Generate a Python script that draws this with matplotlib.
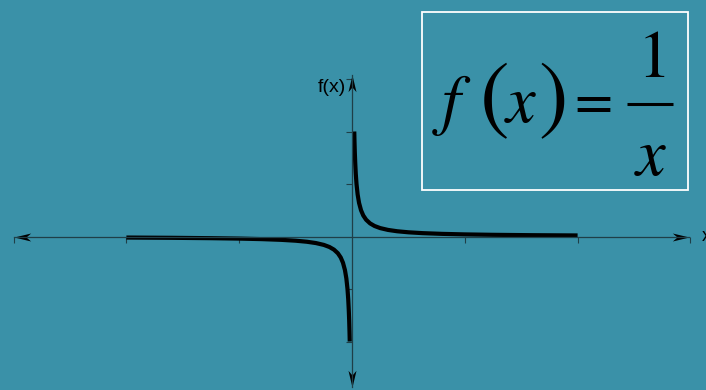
import matplotlib
matplotlib.use("Agg")
import matplotlib.pyplot as plt
from matplotlib.patches import Rectangle
from matplotlib.lines import Line2D
from matplotlib.path import Path

plt.rcParams["mathtext.fontset"] = "stix"

# ---- data ----
x_ticks = [-3, -2, -1, 1, 2, 3]
y_ticks = [-50, -25, 25, 50, 75]
x_pos = [0.02, 0.022, 0.025, 0.0286, 0.0333, 0.04, 0.05, 0.0625, 0.08, 0.1, 0.125,
         0.16, 0.2, 0.25, 0.32, 0.4, 0.5, 0.625, 0.8, 1.0, 1.25, 1.6, 2.0]
y_pos = [50, 45.5, 40, 35, 30, 25, 20, 16, 12.5, 10, 8,
         6.25, 5, 4, 3.125, 2.5, 2, 1.6, 1.25, 1.0, 0.8, 0.625, 0.5]
x_neg = [-2.0, -1.6, -1.25, -1.0, -0.8, -0.625, -0.5, -0.4, -0.32, -0.25, -0.2,
         -0.16, -0.125, -0.1, -0.08, -0.0625, -0.05, -0.04, -0.0333, -0.0286, -0.025, -0.022, -0.02]
y_neg = [-0.5, -0.625, -0.8, -1.0, -1.25, -1.6, -2, -2.5, -3.125, -4, -5,
         -6.25, -8, -10, -12.5, -16, -20, -25, -30, -35, -40, -45.5, -50]
x_axis_label = "x"
y_axis_label = "f(x)"

BG = "#3a91a8"
AX = "#1f3f48"
W, H = 706, 390

fig = plt.figure(figsize=(W / 100, H / 100), dpi=100, facecolor=BG)
ax = fig.add_axes([0, 0, 1, 1], facecolor=BG)

x0px, xs = 352.0, 112.8
y0px, ys = 236.5, 2.1
ax.set_xlim((0 - x0px) / xs, (W - x0px) / xs)
ax.set_ylim((y0px - H) / ys, y0px / ys)

def px(xp, yp):
    return ((xp - x0px) / xs, (y0px - yp) / ys)

x_left, _ = px(14, 0)
x_right, _ = px(689, 0)
_, y_top = px(0, 75)
_, y_bot = px(0, 387)

for s in ["top", "right"]:
    ax.spines[s].set_visible(False)
ax.spines["left"].set_position(("data", 0))
ax.spines["bottom"].set_position(("data", 0))
ax.spines["left"].set_bounds(y_bot, y_top)
ax.spines["bottom"].set_bounds(x_left, x_right)
for s in ["left", "bottom"]:
    ax.spines[s].set_color(AX)
    ax.spines[s].set_linewidth(0.9)

ax.set_xticks(x_ticks)
ax.set_yticks(y_ticks)
ax.tick_params(axis="both", direction="out", length=4.5, width=0.8, color=AX,
               labelbottom=False, labelleft=False)

# stealth arrowheads (tip at origin)
def stealth(dx, dy):
    base = [(0, 0), (-1, 0.24), (-0.72, 0), (-1, -0.24), (0, 0)]
    verts = [(u * dx - v * dy, u * dy + v * dx) for u, v in base]
    codes = [Path.MOVETO, Path.LINETO, Path.LINETO, Path.LINETO, Path.CLOSEPOLY]
    return Path(verts, codes)

MS = 24
ax.plot([x_left], [0], marker=stealth(-1, 0), ms=MS, color="black", mew=0, clip_on=False)
ax.plot([x_right], [0], marker=stealth(1, 0), ms=MS, color="black", mew=0, clip_on=False)
ax.plot([0], [y_top], marker=stealth(0, 1), ms=MS, color="black", mew=0, clip_on=False)
ax.plot([0], [y_bot], marker=stealth(0, -1), ms=MS, color="black", mew=0, clip_on=False)

# curve
ax.plot(x_pos, y_pos, color="black", lw=3.0, solid_capstyle="butt", solid_joinstyle="round")
ax.plot(x_neg, y_neg, color="black", lw=3.0, solid_capstyle="butt", solid_joinstyle="round")

# axis labels
lx, ly = px(346, 88)
ax.text(lx, ly, y_axis_label, ha="right", va="center", fontsize=14,
        family="Liberation Sans", color="black")
tx, ty = px(702, 236.5)
ax.text(tx, ty, x_axis_label, ha="left", va="center", fontsize=13,
        family="Liberation Sans", color="black", clip_on=False)

# formula box
def fx(xp):
    return xp / W

def fy(yp):
    return 1 - yp / H

fig.add_artist(Rectangle((fx(422), fy(190)), fx(688) - fx(422), fy(12) - fy(190),
                         transform=fig.transFigure, fill=False, edgecolor="white", lw=1.3))

fs = 48
fig.text(fx(452), fy(122), r"$f$", ha="center", va="baseline", fontsize=fs)
fig.text(fx(493), fy(98.5), r"$($", ha="center", va="center", fontsize=64)
fig.text(fx(521), fy(122), r"$x$", ha="center", va="baseline", fontsize=fs)
fig.text(fx(552), fy(98.5), r"$)$", ha="center", va="center", fontsize=64)
fig.text(fx(589), fy(102.5), r"$=$", ha="center", va="center", fontsize=40)
fig.text(fx(651), fy(77), r"$1$", ha="center", va="baseline", fontsize=fs)
fig.add_artist(Line2D([fx(627), fx(673)], [fy(104), fy(104)], transform=fig.transFigure,
                      color="black", lw=2.2, solid_capstyle="butt"))
fig.text(fx(651), fy(175), r"$x$", ha="center", va="baseline", fontsize=fs)

fig.savefig("out.png", dpi=100, facecolor=BG)
